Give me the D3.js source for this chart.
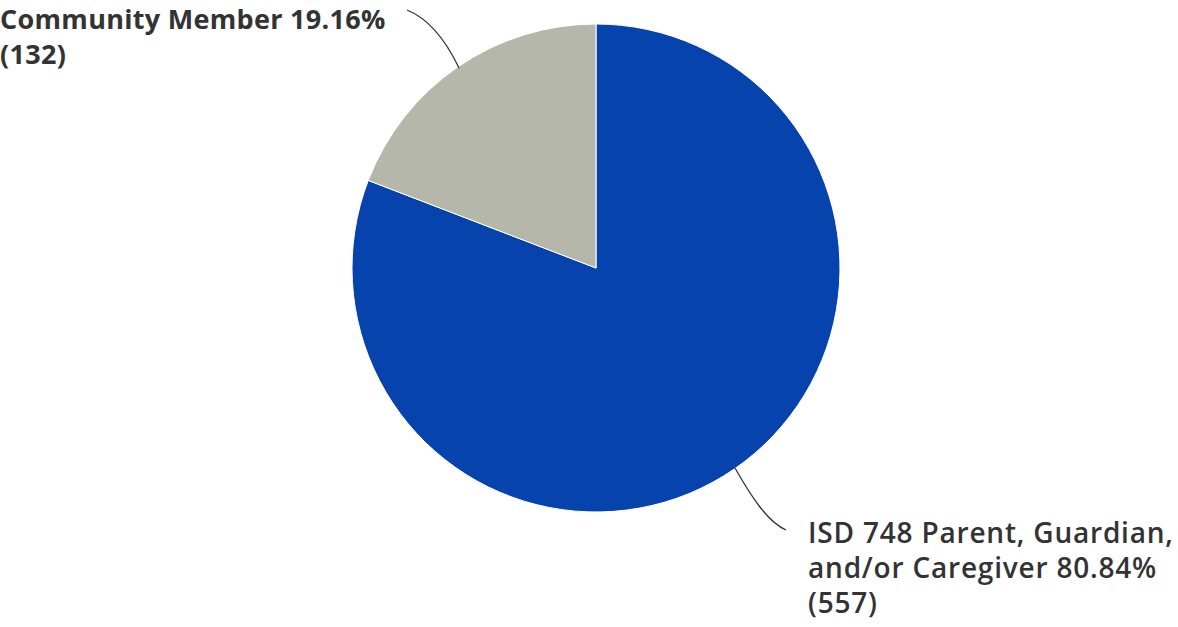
<!DOCTYPE html>
<html><head><meta charset="utf-8">
<script src="https://cdn.jsdelivr.net/npm/d3@7"></script>
<style>html,body{margin:0;padding:0;background:#fff;}</style>
</head><body>
<svg id="c" width="1178" height="627"></svg>
<script>
const categories = ["ISD 748 Parent, Guardian, and/or Caregiver", "Community Member"];
const percents = [80.84, 19.16];
const counts = [557, 132];
const colors = ["#0743ad", "#b5b7aa"];
const labelLines = [
  ["ISD 748 Parent, Guardian,", "and/or Caregiver 80.84%", "(557)"],
  ["Community Member 19.16%", "(132)"]
];

const svg = d3.select("#c");
const cx = 596, cy = 268, r = 244;
const pie = d3.pie().sort(null).value(d => d)(counts);
const arc = d3.arc().innerRadius(0).outerRadius(r);
const g = svg.append("g").attr("transform", `translate(${cx},${cy})`);
g.selectAll("path").data(pie).join("path")
  .attr("d", arc)
  .attr("fill", (d, i) => colors[i])
  .attr("stroke", "#fff").attr("stroke-width", 1);

// leader lines
const leaders = [
  "M735,468 C752,498 768,522 786,530",
  "M459,68 C448,45 432,20 407,10"
];
svg.selectAll("path.leader").data(leaders).join("path")
  .attr("class", "leader").attr("d", d => d)
  .attr("fill", "none").attr("stroke", "#333").attr("stroke-width", 1.3);

const labelPos = [[808, 543], [0, 29]];
const fsz = [28, 27];
const ls = [0.8, 0.3];
labelLines.forEach((lines, i) => {
  const t = svg.append("text")
    .attr("x", labelPos[i][0]).attr("y", labelPos[i][1])
    .attr("font-family", "'Open Sans', sans-serif")
    .attr("font-weight", i === 1 ? 700 : 600)
    .attr("letter-spacing", ls[i])
    .attr("font-size", fsz[i]).attr("fill", "#333");
  lines.forEach((l, j) => t.append("tspan").attr("x", labelPos[i][0]).attr("dy", j ? 35 : 0).text(l));
});
</script>
</body></html>
